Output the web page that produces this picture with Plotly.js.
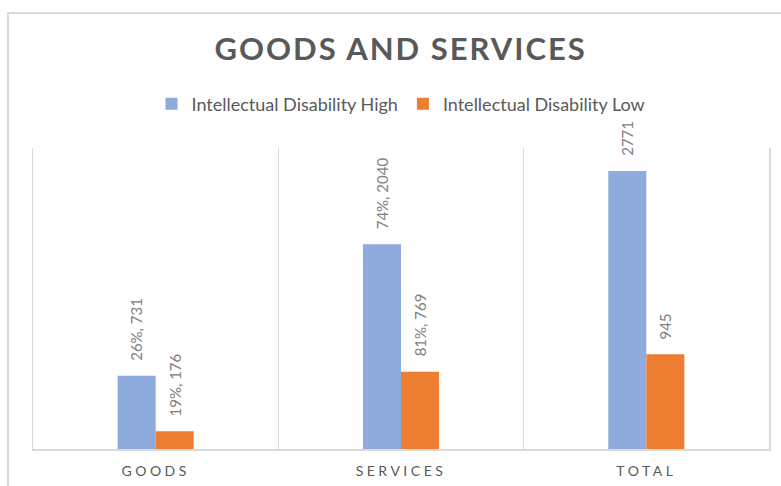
<!DOCTYPE html>
<html>
<head>
<meta charset="utf-8">
<script src="https://cdn.plot.ly/plotly-3.0.1.min.js"></script>
<style>
  body { margin: 0; background: #ffffff; }
  #frame { position: absolute; left: 7px; top: 12px; width: 820px; height: 520px; border: 2px solid #d9d9d9; }
  #chart { position: absolute; left: 0; top: 0; width: 781px; height: 486px; }
  #chart .gtitle { letter-spacing: 2px; }
  #chart .xtick text { letter-spacing: 3.5px; }
</style>
</head>
<body>
<div id="frame"></div>
<div id="chart"></div>
<script>
// ---- data ----
var categories = ["GOODS", "SERVICES", "TOTAL"];
var seriesNames = ["Intellectual Disability High", "Intellectual Disability Low"];
var highValues = [731, 2040, 2771];
var lowValues = [176, 769, 945];
var highPct = ["26%", "74%", ""];
var lowPct = ["19%", "81%", ""];

// ---- layout constants ----
var W = 781, H = 486;
var margin = {l: 33, r: 12, t: 148, b: 37};
var bargap = 0.69;
var plotW = W - margin.l - margin.r;
var catW = plotW / categories.length;
var barW = catW * (1 - bargap) / 2;

var blue = "#8faadc", orange = "#ed7d31";

var traces = [
  {type: "bar", name: seriesNames[0], x: categories, y: highValues,
   marker: {color: blue}, hoverinfo: "none"},
  {type: "bar", name: seriesNames[1], x: categories, y: lowValues,
   marker: {color: orange}, hoverinfo: "none"}
];

function labelText(pct, v) { return pct ? pct + ", " + v : String(v); }

var annotations = [];
[[highValues, highPct, -1], [lowValues, lowPct, 1]].forEach(function (s) {
  s[0].forEach(function (v, i) {
    annotations.push({
      x: categories[i], y: v, xref: "x", yref: "y",
      text: labelText(s[1][i], v), showarrow: false,
      textangle: -90, xanchor: "center", yanchor: "bottom",
      xshift: s[2] * barW / 2, yshift: 13,
      font: {family: "Lato, 'Open Sans', sans-serif", size: 15, color: "#808080"}
    });
  });
});

var layout = {
  width: W, height: H,
  margin: margin,
  paper_bgcolor: "rgba(0,0,0,0)",
  plot_bgcolor: "rgba(0,0,0,0)",
  font: {family: "Lato, 'Open Sans', sans-serif", color: "#595959"},
  title: {
    text: "GOODS AND SERVICES",
    font: {family: "Lato, 'Open Sans', sans-serif", size: 31, color: "#595959", weight: "bold"},
    x: 0.513, xanchor: "center", y: 1 - 49 / H, yanchor: "middle", yref: "container"
  },
  barmode: "group", bargap: bargap, bargroupgap: 0,
  showlegend: true,
  legend: {
    orientation: "h", x: 0.5, xanchor: "center",
    y: 1 - 104 / H, yanchor: "middle", yref: "container",
    font: {size: 18, color: "#595959"},
    itemclick: false, itemdoubleclick: false
  },
  xaxis: {
    type: "category", tickson: "boundaries", ticks: "",
    showgrid: true, gridcolor: "#d9d9d9", gridwidth: 1.2,
    showline: true, linecolor: "#d9d9d9", linewidth: 2,
    tickfont: {size: 14, color: "#595959"},
    ticklabelstandoff: 8,
    fixedrange: true
  },
  yaxis: {
    range: [0, 3000], showticklabels: false, showgrid: false, zeroline: false,
    showline: true, mirror: true, linecolor: "#d9d9d9", linewidth: 1.5,
    ticks: "", fixedrange: true
  },
  annotations: annotations
};

Plotly.newPlot("chart", traces, layout, {displayModeBar: false, staticPlot: true});
</script>
</body>
</html>
